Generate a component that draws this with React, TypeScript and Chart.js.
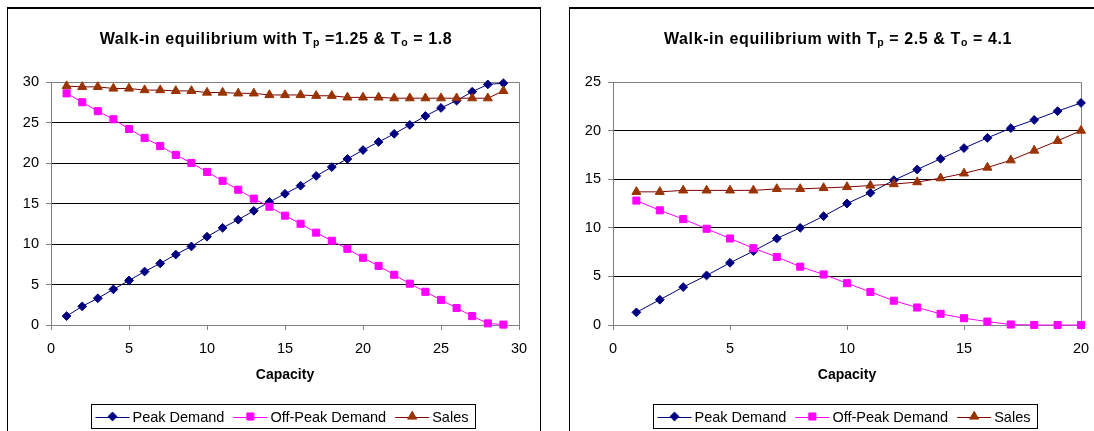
import React, { useEffect, useRef } from "react";
import { Chart, registerables } from "chart.js";

Chart.register(...registerables);

const FONT = "'Liberation Sans', Arial, Helvetica, sans-serif";

// ---------- Left chart data ----------
const capacityLeft = [1, 2, 3, 4, 5, 6, 7, 8, 9, 10, 11, 12, 13, 14, 15, 16, 17, 18, 19, 20, 21, 22, 23, 24, 25, 26, 27, 28, 29];
const peakLeft = [1.1, 2.3, 3.3, 4.4, 5.5, 6.6, 7.6, 8.7, 9.7, 10.9, 12.0, 13.0, 14.1, 15.2, 16.2, 17.2, 18.4, 19.5, 20.5, 21.6, 22.6, 23.6, 24.7, 25.8, 26.8, 27.7, 28.8, 29.7, 29.85];
const offPeakLeft = [28.6, 27.5, 26.4, 25.4, 24.2, 23.1, 22.1, 21.0, 20.0, 18.9, 17.8, 16.7, 15.6, 14.6, 13.5, 12.5, 11.4, 10.4, 9.4, 8.3, 7.3, 6.2, 5.1, 4.1, 3.1, 2.1, 1.1, 0.2, 0.05];
const salesLeft = [29.5, 29.4, 29.4, 29.2, 29.2, 29.0, 29.0, 28.9, 28.9, 28.7, 28.7, 28.6, 28.6, 28.4, 28.4, 28.4, 28.3, 28.3, 28.1, 28.1, 28.1, 28.0, 28.0, 28.0, 28.0, 28.0, 28.0, 28.0, 28.9];
const titleLeft = [
  { t: "Walk-in equilibrium with T" },
  { t: "p", sub: true },
  { t: " =1.25 & T" },
  { t: "o", sub: true },
  { t: " = 1.8" },
];
const xMaxLeft = 30;
const yMaxLeft = 30;

// ---------- Right chart data ----------
const capacityRight = [1, 2, 3, 4, 5, 6, 7, 8, 9, 10, 11, 12, 13, 14, 15, 16, 17, 18, 19, 20];
const peakRight = [1.3, 2.6, 3.9, 5.1, 6.4, 7.6, 8.9, 10.0, 11.2, 12.5, 13.6, 14.9, 16.0, 17.1, 18.2, 19.25, 20.25, 21.1, 22.0, 22.85];
const offPeakRight = [12.8, 11.8, 10.9, 9.9, 8.9, 7.9, 7.0, 6.0, 5.2, 4.3, 3.4, 2.5, 1.8, 1.15, 0.7, 0.35, 0.05, 0, 0, 0];
const salesRight = [13.7, 13.7, 13.85, 13.85, 13.85, 13.85, 14.0, 14.0, 14.1, 14.2, 14.35, 14.5, 14.7, 15.1, 15.6, 16.2, 16.95, 17.95, 18.95, 20.0];
const titleRight = [
  { t: "Walk-in equilibrium with T" },
  { t: "p", sub: true },
  { t: " = 2.5 & T" },
  { t: "o", sub: true },
  { t: " = 4.1" },
];
const xMaxRight = 20;
const yMaxRight = 25;

const seriesLabels = ["Peak Demand", "Off-Peak Demand", "Sales"];
const xTitle = "Capacity";

type Seg = { t: string; sub?: boolean };

const CANVAS_W = 532;
const CANVAS_H = 437;
const GRAY = "#808080";

function drawMarker(ctx: CanvasRenderingContext2D, style: string, x: number, y: number, r: number, fill: string) {
  ctx.save();
  ctx.fillStyle = fill;
  ctx.strokeStyle = fill;
  ctx.lineWidth = 1;
  ctx.beginPath();
  if (style === "rectRot") {
    ctx.moveTo(x - r, y);
    ctx.lineTo(x, y - r);
    ctx.lineTo(x + r, y);
    ctx.lineTo(x, y + r);
  } else if (style === "rect") {
    const s = r * Math.SQRT1_2;
    ctx.rect(x - s, y - s, 2 * s, 2 * s);
  } else {
    for (let k = 0; k < 3; k++) {
      const a = (k * 2 * Math.PI) / 3;
      const px = x + Math.sin(a) * r;
      const py = y - Math.cos(a) * r;
      if (k === 0) ctx.moveTo(px, py);
      else ctx.lineTo(px, py);
    }
  }
  ctx.closePath();
  ctx.fill();
  ctx.stroke();
  ctx.restore();
}

const framePlugin = {
  id: "frame",
  beforeDatasetsDraw(chart: any) {
    const { ctx, chartArea } = chart;
    ctx.save();
    ctx.strokeStyle = GRAY;
    ctx.lineWidth = 1;
    ctx.beginPath();
    const l = Math.round(chartArea.left) + 0.5;
    const r = Math.round(chartArea.right) + 0.5;
    const t = Math.round(chartArea.top) + 0.5;
    const b = Math.round(chartArea.bottom) + 0.5;
    ctx.moveTo(l, t);
    ctx.lineTo(r, t);
    ctx.lineTo(r, b);
    ctx.stroke();
    ctx.restore();
  },
};

const titlePlugin = {
  id: "subTitle",
  afterDraw(chart: any, _args: any, opts: any) {
    const segs: Seg[] = opts.segments || [];
    const { ctx } = chart;
    const mainFont = `bold 16px ${FONT}`;
    const subFont = `bold 10.5px ${FONT}`;
    ctx.save();
    ctx.textBaseline = "alphabetic";
    ctx.textAlign = "left";
    ctx.fillStyle = "#000";
    try {
      (ctx as any).letterSpacing = "0.6px";
    } catch (e) {}
    let total = 0;
    const widths = segs.map((s) => {
      ctx.font = s.sub ? subFont : mainFont;
      const w = ctx.measureText(s.t).width;
      total += w;
      return w;
    });
    let x = chart.width / 2 - total / 2 + 2;
    const baseY = 34.5;
    segs.forEach((s, i) => {
      ctx.font = s.sub ? subFont : mainFont;
      ctx.fillText(s.t, x, s.sub ? baseY + 2.5 : baseY);
      x += widths[i];
    });
    ctx.restore();
  },
};

const legendPlugin = {
  id: "boxLegend",
  afterDraw(chart: any) {
    const { ctx, chartArea } = chart;
    const ds = chart.data.datasets;
    const font = `14.5px ${FONT}`;
    ctx.save();
    ctx.font = font;
    const lineW = 34;
    const gapText = 3;
    const gapItem = 9;
    const padL = 4;
    const padR = 7;
    const tw = ds.map((d: any) => ctx.measureText(d.label).width);
    let total = padL + padR;
    ds.forEach((_d: any, i: number) => {
      total += lineW + gapText + tw[i];
      if (i < ds.length - 1) total += gapItem;
    });
    const cx = (chartArea.left + chartArea.right) / 2;
    const left = Math.round(cx - total / 2) - 2 + 0.5;
    const top = 395.5;
    const h = 24;
    ctx.strokeStyle = "#000";
    ctx.lineWidth = 1;
    ctx.strokeRect(left, top, Math.round(total), h);
    const cy = top + h / 2;
    let x = left + padL;
    ds.forEach((d: any, i: number) => {
      ctx.strokeStyle = d.borderColor;
      ctx.lineWidth = 1;
      ctx.beginPath();
      ctx.moveTo(x, Math.round(cy) + 0.5);
      ctx.lineTo(x + lineW, Math.round(cy) + 0.5);
      ctx.stroke();
      drawMarker(ctx, d.pointStyle, x + lineW / 2, cy, d.pointRadius, d.pointBackgroundColor);
      x += lineW + gapText;
      ctx.fillStyle = "#000";
      ctx.textBaseline = "middle";
      ctx.textAlign = "left";
      ctx.font = font;
      ctx.fillText(d.label, x, cy + 1);
      x += tw[i] + gapItem;
    });
    ctx.restore();
  },
};

function ChartPanel(props: {
  caps: number[];
  peak: number[];
  off: number[];
  sales: number[];
  title: Seg[];
  xMax: number;
  yMax: number;
}) {
  const ref = useRef<HTMLCanvasElement | null>(null);
  useEffect(() => {
    if (!ref.current) return;
    const { caps, peak, off, sales, title, xMax, yMax } = props;
    const toPts = (arr: number[]) => caps.map((c, i) => ({ x: c, y: arr[i] }));
    const chart = new Chart(ref.current, {
      type: "line",
      data: {
        datasets: [
          {
            label: seriesLabels[0],
            data: toPts(peak),
            borderColor: "#000080",
            backgroundColor: "#000080",
            pointBackgroundColor: "#000080",
            pointBorderColor: "#000080",
            pointStyle: "rectRot",
            pointRadius: 4.4,
            pointBorderWidth: 1,
            borderWidth: 1,
            order: 2,
            clip: false,
          } as any,
          {
            label: seriesLabels[1],
            data: toPts(off),
            borderColor: "#FF00FF",
            backgroundColor: "#FF00FF",
            pointBackgroundColor: "#FF00FF",
            pointBorderColor: "#FF00FF",
            pointStyle: "rect",
            pointRadius: 5,
            pointBorderWidth: 1,
            borderWidth: 1,
            order: 1,
            clip: false,
          } as any,
          {
            label: seriesLabels[2],
            data: toPts(sales),
            borderColor: "#800000",
            backgroundColor: "#993300",
            pointBackgroundColor: "#993300",
            pointBorderColor: "#993300",
            pointStyle: "triangle",
            pointRadius: 5.2,
            pointBorderWidth: 1,
            borderWidth: 1,
            order: 0,
            clip: false,
          } as any,
        ],
      },
      options: {
        responsive: false,
        animation: false,
        devicePixelRatio: 1,
        layout: { padding: { top: 73, right: 21, left: 0, bottom: 0 } },
        plugins: {
          legend: { display: false },
          title: { display: false },
          tooltip: { enabled: false },
          subTitle: { segments: title },
        } as any,
        scales: {
          x: {
            type: "linear",
            min: 0,
            max: xMax,
            ticks: {
              stepSize: 5,
              color: "#000",
              font: { family: FONT, size: 14.5 },
              padding: 10,
              maxRotation: 0,
            },
            grid: {
              drawOnChartArea: false,
              drawTicks: true,
              tickLength: 5,
              tickColor: GRAY,
            },
            border: { display: true, color: GRAY, width: 1 },
            title: {
              display: true,
              text: xTitle,
              color: "#000",
              font: { family: FONT, size: 14, weight: "bold" },
              padding: { top: 0, bottom: 62.6 },
            },
            afterFit: (s: any) => {
              s.height = 121;
            },
          },
          y: {
            type: "linear",
            min: 0,
            max: yMax,
            ticks: {
              stepSize: 5,
              color: "#000",
              font: { family: FONT, size: 14.5 },
              padding: 7,
            },
            grid: {
              color: (c: any) => (c.tick && (c.tick.value === 0 || c.tick.value === yMax) ? GRAY : "#000"),
              lineWidth: 1,
              drawTicks: true,
              tickLength: 5,
              tickColor: GRAY,
            },
            border: { display: true, color: GRAY, width: 1 },
            afterFit: (s: any) => {
              s.width = 43;
            },
          },
        },
      } as any,
      plugins: [framePlugin, titlePlugin, legendPlugin],
    });
    return () => chart.destroy();
  }, []);
  return (
    <canvas
      ref={ref}
      width={CANVAS_W}
      height={CANVAS_H}
      style={{ display: "block", width: CANVAS_W, height: CANVAS_H }}
    />
  );
}

export default function App() {
  const boxStyle = (left: number): React.CSSProperties => ({
    position: "absolute",
    left,
    top: 7,
    width: CANVAS_W + 2,
    height: CANVAS_H + 3,
    boxSizing: "border-box",
    borderTop: "2px solid #000",
    borderLeft: "1px solid #000",
    borderRight: "1px solid #000",
    borderBottom: "1px solid #000",
    background: "#fff",
  });
  return (
    <div
      style={{
        position: "absolute",
        left: 0,
        top: 0,
        width: 1094,
        height: 431,
        overflow: "hidden",
        background: "#fff",
      }}
    >
      <div style={boxStyle(7)}>
        <ChartPanel
          caps={capacityLeft}
          peak={peakLeft}
          off={offPeakLeft}
          sales={salesLeft}
          title={titleLeft}
          xMax={xMaxLeft}
          yMax={yMaxLeft}
        />
      </div>
      <div style={boxStyle(569)}>
        <ChartPanel
          caps={capacityRight}
          peak={peakRight}
          off={offPeakRight}
          sales={salesRight}
          title={titleRight}
          xMax={xMaxRight}
          yMax={yMaxRight}
        />
      </div>
    </div>
  );
}
